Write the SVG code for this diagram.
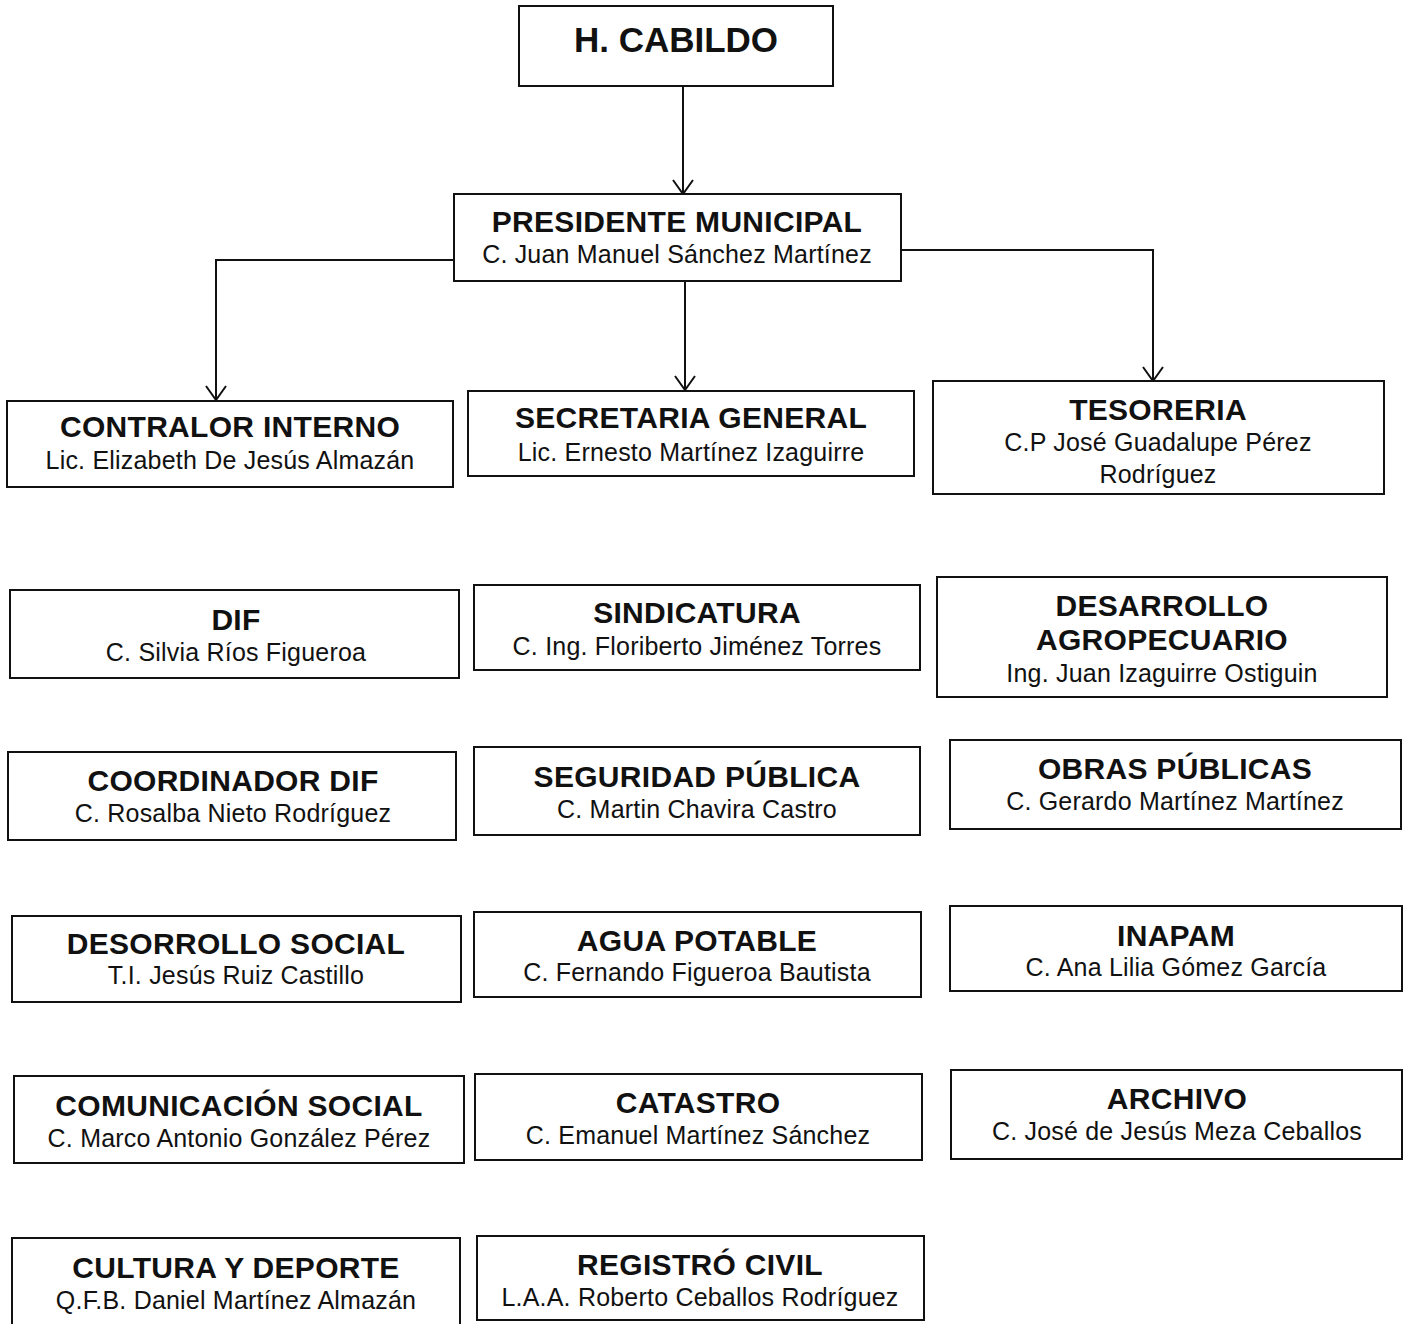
<svg xmlns="http://www.w3.org/2000/svg" width="1406" height="1324" viewBox="0 0 1406 1324">
<style>
  .box { fill: #ffffff; stroke: #111111; stroke-width: 2; }
  .t { font-family: "Liberation Sans", Arial, sans-serif; font-weight: bold; font-size: 30px; letter-spacing: 0.3px; fill: #111111; text-anchor: middle; }
  .s { font-family: "Liberation Sans", Arial, sans-serif; font-size: 25px; letter-spacing: 0.2px; fill: #111111; text-anchor: middle; }
  .big { font-size: 35px; letter-spacing: 0; }
  .conn { fill: none; stroke: #111111; stroke-width: 2; }
</style>
<defs>
  <marker id="arr" viewBox="-1 -12 17 24" refX="14" refY="0" markerWidth="17" markerHeight="24" markerUnits="userSpaceOnUse" orient="auto">
    <path d="M0,-10 L14,0 L0,10" fill="none" stroke="#111111" stroke-width="2"/>
  </marker>
</defs>
<rect x="0" y="0" width="1406" height="1324" fill="#ffffff"/>

<g id="connectors">
  <path class="conn" d="M683,86 L683,194" marker-end="url(#arr)"/>
  <path class="conn" d="M454,260 L216,260 L216,400" marker-end="url(#arr)"/>
  <path class="conn" d="M685,281 L685,390" marker-end="url(#arr)"/>
  <path class="conn" d="M901,250 L1153,250 L1153,381" marker-end="url(#arr)"/>
</g>

<g id="cabildo">
  <rect class="box" x="519" y="6" width="314" height="80"/>
  <text class="t big" x="676" y="52">H. CABILDO</text>
</g>
<g id="presidente">
  <rect class="box" x="454" y="194" width="447" height="87"/>
  <text class="t" x="677" y="232">PRESIDENTE MUNICIPAL</text>
  <text class="s" x="677" y="263">C. Juan Manuel Sánchez Martínez</text>
</g>
<g id="contralor">
  <rect class="box" x="7" y="401" width="446" height="86"/>
  <text class="t" x="230" y="437">CONTRALOR INTERNO</text>
  <text class="s" x="230" y="469">Lic. Elizabeth De Jesús Almazán</text>
</g>
<g id="secretaria">
  <rect class="box" x="468" y="391" width="446" height="85"/>
  <text class="t" x="691" y="428">SECRETARIA GENERAL</text>
  <text class="s" x="691" y="461">Lic. Ernesto Martínez Izaguirre</text>
</g>
<g id="tesoreria">
  <rect class="box" x="933" y="381" width="451" height="113"/>
  <text class="t" x="1158" y="420">TESORERIA</text>
  <text class="s" x="1158" y="451">C.P José Guadalupe Pérez</text>
  <text class="s" x="1158" y="483">Rodríguez</text>
</g>
<g id="dif">
  <rect class="box" x="10" y="590" width="449" height="88"/>
  <text class="t" x="236" y="630">DIF</text>
  <text class="s" x="236" y="661">C. Silvia Ríos Figueroa</text>
</g>
<g id="sindicatura">
  <rect class="box" x="474" y="585" width="446" height="85"/>
  <text class="t" x="697" y="623">SINDICATURA</text>
  <text class="s" x="697" y="655">C. Ing. Floriberto Jiménez Torres</text>
</g>
<g id="desarrollo-agropecuario">
  <rect class="box" x="937" y="577" width="450" height="120"/>
  <text class="t" x="1162" y="616">DESARROLLO</text>
  <text class="t" x="1162" y="650">AGROPECUARIO</text>
  <text class="s" x="1162" y="682">Ing. Juan Izaguirre Ostiguin</text>
</g>
<g id="coordinador-dif">
  <rect class="box" x="8" y="752" width="448" height="88"/>
  <text class="t" x="233" y="791">COORDINADOR DIF</text>
  <text class="s" x="233" y="822">C. Rosalba Nieto Rodríguez</text>
</g>
<g id="seguridad-publica">
  <rect class="box" x="474" y="747" width="446" height="88"/>
  <text class="t" x="697" y="787">SEGURIDAD PÚBLICA</text>
  <text class="s" x="697" y="818">C. Martin Chavira Castro</text>
</g>
<g id="obras-publicas">
  <rect class="box" x="950" y="740" width="451" height="89"/>
  <text class="t" x="1175" y="779">OBRAS PÚBLICAS</text>
  <text class="s" x="1175" y="810">C. Gerardo Martínez Martínez</text>
</g>
<g id="desorrollo-social">
  <rect class="box" x="12" y="916" width="449" height="86"/>
  <text class="t" x="236" y="954">DESORROLLO SOCIAL</text>
  <text class="s" x="236" y="984">T.I. Jesús Ruiz Castillo</text>
</g>
<g id="agua-potable">
  <rect class="box" x="474" y="912" width="447" height="85"/>
  <text class="t" x="697" y="951">AGUA POTABLE</text>
  <text class="s" x="697" y="981">C. Fernando Figueroa Bautista</text>
</g>
<g id="inapam">
  <rect class="box" x="950" y="906" width="452" height="85"/>
  <text class="t" x="1176" y="946">INAPAM</text>
  <text class="s" x="1176" y="976">C. Ana Lilia Gómez García</text>
</g>
<g id="comunicacion-social">
  <rect class="box" x="14" y="1076" width="450" height="87"/>
  <text class="t" x="239" y="1116">COMUNICACIÓN SOCIAL</text>
  <text class="s" x="239" y="1147">C. Marco Antonio González Pérez</text>
</g>
<g id="catastro">
  <rect class="box" x="475" y="1074" width="447" height="86"/>
  <text class="t" x="698" y="1113">CATASTRO</text>
  <text class="s" x="698" y="1144">C. Emanuel Martínez Sánchez</text>
</g>
<g id="archivo">
  <rect class="box" x="951" y="1070" width="451" height="89"/>
  <text class="t" x="1177" y="1109">ARCHIVO</text>
  <text class="s" x="1177" y="1140">C. José de Jesús Meza Ceballos</text>
</g>
<g id="cultura-deporte">
  <rect class="box" x="12" y="1238" width="448" height="100"/>
  <text class="t" x="236" y="1278">CULTURA Y DEPORTE</text>
  <text class="s" x="236" y="1309">Q.F.B. Daniel Martínez Almazán</text>
</g>
<g id="registro-civil">
  <rect class="box" x="477" y="1236" width="447" height="84"/>
  <text class="t" x="700" y="1275">REGISTRÓ CIVIL</text>
  <text class="s" x="700" y="1306">L.A.A. Roberto Ceballos Rodríguez</text>
</g>
</svg>
